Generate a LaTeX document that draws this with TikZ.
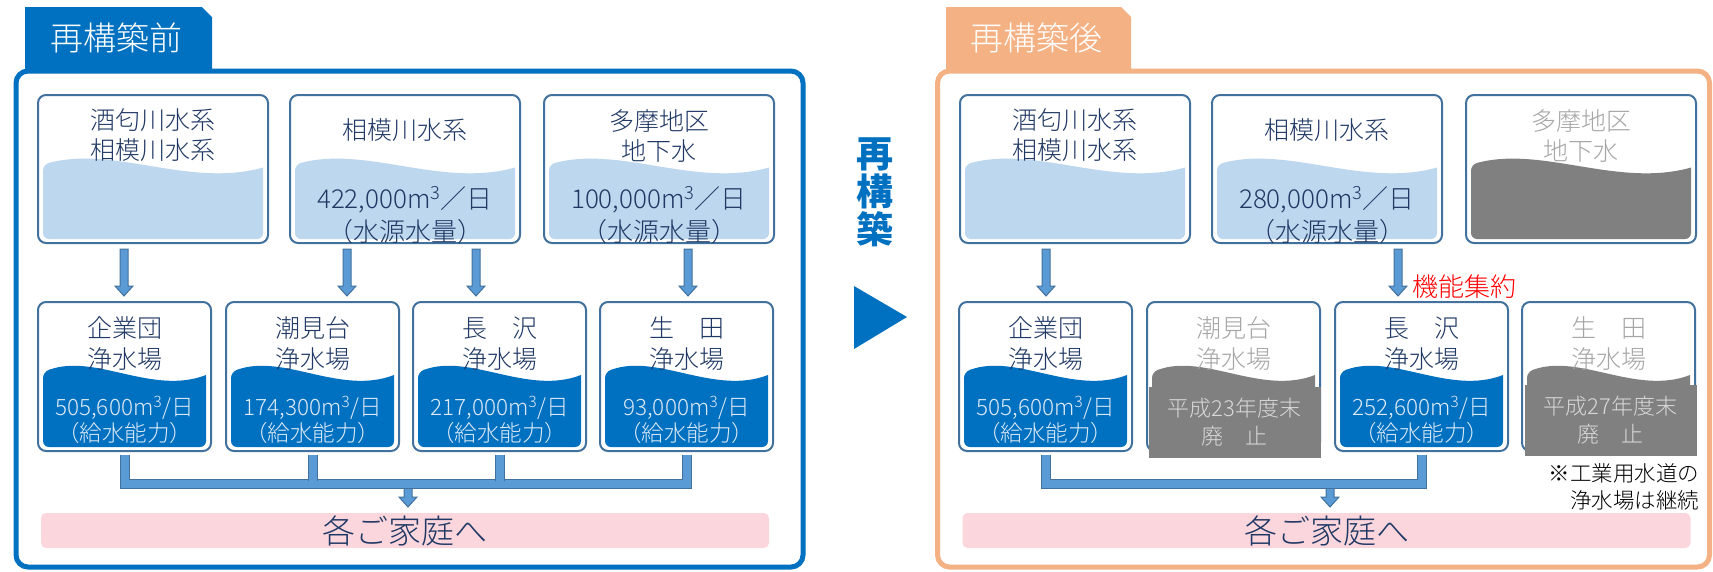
\documentclass[tikz,border=0pt]{standalone}
\usepackage{fontspec}
\setmainfont{Noto Sans CJK JP Light}
\newfontfamily\headfont{Noto Sans CJK JP}
\usepackage{tikz}
\usetikzlibrary{arrows,calc,positioning}
\definecolor{mainblue}{RGB}{0,112,192}
\definecolor{peach}{RGB}{244,177,131}
\definecolor{boxline}{RGB}{65,113,156}
\definecolor{lightwater}{RGB}{189,215,238}
\definecolor{navytext}{RGB}{31,56,100}
\definecolor{pipefill}{RGB}{91,155,213}
\definecolor{homepink}{RGB}{252,214,221}
\definecolor{closedgray}{RGB}{128,128,128}
\definecolor{fadedtext}{RGB}{166,166,166}
\definecolor{palewhite}{RGB}{222,235,247}
\definecolor{palegray}{RGB}{217,217,217}

% water surface inside a box: node, width, height, colour
\newcommand{\wave}[4]{%
  \begin{scope}[shift={(#1.north west)}]
    \fill[#4] (5,{0.47*#3}) .. controls ({0.33*#2},{0.34*#3}) and ({0.66*#2},{0.63*#3}) .. ({#2-5},{0.49*#3})
      [rounded corners=6pt] -- ({#2-5},{#3-4}) -- (5,{#3-4}) -- cycle;
  \end{scope}}

\begin{document}
\begin{tikzpicture}
              [x=1pt,y=-1pt,
                every node/.style={inner sep=0pt,outer sep=0pt},
                srcbox/.style={draw=boxline,line width=2pt,fill=white,rounded corners=8pt,anchor=north west,minimum width=230pt,minimum height=148pt},
                plantbox/.style={draw=boxline,line width=2pt,fill=white,rounded corners=8pt,anchor=north west,minimum width=173pt,minimum height=149pt},
                nametext/.style={text=navytext,align=center,font=\fontsize{25}{30}\selectfont},
                srcnum/.style={text=navytext,align=center,font=\fontsize{26}{33}\selectfont},
                plantnum/.style={text=palewhite,align=center,font=\fontsize{22.5}{26}\selectfont},
                home/.style={fill=homepink,rounded corners=5pt,minimum width=728pt,minimum height=35pt,text=navytext,font=\fontsize{33}{33}\selectfont},
                closed/.style={fill=closedgray,minimum width=172pt,minimum height=71pt,text=palegray,align=center,font=\fontsize{22}{28}\selectfont},
                tabtext/.style={text=white,font=\fontsize{33}{33}\selectfont},
                pipe/.style={draw=boxline,line width=1pt,double=pipefill,double distance=8pt},
                blockarrow/.style={draw=boxline,line width=1pt,fill=pipefill,
                  to path={let \p1=(\tikztostart), \p2=(\tikztotarget) in
                    (\x1-4pt,\y1-6pt) -- (\x1-4pt,\y2+16pt) -- (\x1-9pt,\y2+16pt) -- (\x1,\y2+6pt)
                    -- (\x1+9pt,\y2+16pt) -- (\x1+4pt,\y2+16pt) -- (\x1+4pt,\y1-6pt) -- cycle}}]
  \useasboundingbox (0,0) rectangle (1713,571);

  % before
  \draw[mainblue,line width=5pt,rounded corners=12pt] (16,71) rectangle (803,567);
  \fill[mainblue] (25,72) -- (25,7) -- (202,7) -- (212,17) -- (212,72) -- cycle;
  \node[tabtext] (tab1) at (116,38) {再構築前};

  \node[srcbox] (s1) at (38,95) {};
  \node[srcbox] (s2) at (290,95) {};
  \node[srcbox] (s3) at (544,95) {};
  \wave{s1}{230}{148}{lightwater}
  \wave{s2}{230}{148}{lightwater}
  \wave{s3}{230}{148}{lightwater}
  \node[nametext] (s1n) at ([yshift=-40pt]s1.north) {酒匂川水系\\相模川水系};
  \node[nametext] (s2n) at ([yshift=-35pt]s2.north) {相模川水系};
  \node[nametext] (s3n) at ([yshift=-41pt]s3.north) {多摩地区\\地下水};
  \node[srcnum] (s2q) at ([yshift=-120pt]s2.north) {422,000m\textsuperscript{3}／日\\（水源水量）};
  \node[srcnum] (s3q) at ([yshift=-120pt]s3.north) {100,000m\textsuperscript{3}／日\\（水源水量）};

  \node[plantbox] (p1) at (38,302) {};
  \node[plantbox] (p2) at (226,302) {};
  \node[plantbox] (p3) at (413,302) {};
  \node[plantbox] (p4) at (600,302) {};
  \wave{p1}{173}{149}{mainblue}
  \wave{p2}{173}{149}{mainblue}
  \wave{p3}{173}{149}{mainblue}
  \wave{p4}{173}{149}{mainblue}
  \node[nametext,font=\fontsize{25}{31}\selectfont] (p1n) at ([yshift=-42pt]p1.north) {企業団\\浄水場};
  \node[nametext,font=\fontsize{25}{31}\selectfont] (p2n) at ([yshift=-42pt]p2.north) {潮見台\\浄水場};
  \node[nametext,font=\fontsize{25}{31}\selectfont] (p3n) at ([yshift=-42pt]p3.north) {長　沢\\浄水場};
  \node[nametext,font=\fontsize{25}{31}\selectfont] (p4n) at ([yshift=-42pt]p4.north) {生　田\\浄水場};
  \node[plantnum] (p1q) at ([yshift=-118pt]p1.north) {505,600m\textsuperscript{3}/日\\（給水能力）};
  \node[plantnum] (p2q) at ([yshift=-118pt]p2.north) {174,300m\textsuperscript{3}/日\\（給水能力）};
  \node[plantnum] (p3q) at ([yshift=-118pt]p3.north) {217,000m\textsuperscript{3}/日\\（給水能力）};
  \node[plantnum] (p4q) at ([yshift=-118pt]p4.north) {93,000m\textsuperscript{3}/日\\（給水能力）};

  \draw[blockarrow] (124,0 |- s1.south) to (124,0 |- p1.north);
  \draw[blockarrow] (347,0 |- s2.south) to (347,0 |- p2.north);
  \draw[blockarrow] (476,0 |- s2.south) to (476,0 |- p3.north);
  \draw[blockarrow] (688,0 |- s3.south) to (688,0 |- p4.north);

  \node[home] (h1) at (405,530.5) {各ご家庭へ};
  \coordinate (bus1) at (408,484);
  \draw[blockarrow] ([yshift=6pt]bus1) to (h1.north);
  \draw[pipe] ([yshift=-4pt]p1.south) |- (bus1) -| ([yshift=-4pt]p4.south);
  \draw[pipe] ([yshift=-4pt]p2.south) -- ([yshift=3pt]p2.south |- bus1);
  \draw[pipe] ([yshift=-4pt]p3.south) -- ([yshift=3pt]p3.south |- bus1);

  % middle
  \node[text=mainblue,align=center,font=\fontsize{37}{38}\selectfont\headfont\bfseries] (mid) at (875,192) {再\\構\\築};
  \fill[mainblue] (854,286) -- (907,317) -- (854,349) -- cycle;

  % after
  \draw[peach,line width=5pt,rounded corners=12pt] (937.5,71) rectangle (1709.5,567);
  \fill[peach] (946,72) -- (946,7) -- (1121,7) -- (1131,17) -- (1131,72) -- cycle;
  \node[tabtext] (tab2) at (1036,38) {再構築後};

  \node[srcbox] (s4) at (960,95) {};
  \node[srcbox] (s5) at (1212,95) {};
  \node[srcbox] (s6) at (1466,95) {};
  \wave{s4}{230}{148}{lightwater}
  \wave{s5}{230}{148}{lightwater}
  \wave{s6}{230}{148}{closedgray}
  \node[nametext] (s4n) at ([yshift=-40pt]s4.north) {酒匂川水系\\相模川水系};
  \node[nametext] (s5n) at ([yshift=-35pt]s5.north) {相模川水系};
  \node[nametext,text=fadedtext] (s6n) at ([yshift=-41pt]s6.north) {多摩地区\\地下水};
  \node[srcnum] (s5q) at ([yshift=-120pt]s5.north) {280,000m\textsuperscript{3}／日\\（水源水量）};

  \node[plantbox] (p5) at (959,302) {};
  \node[plantbox] (p6) at (1147,302) {};
  \node[plantbox] (p7) at (1335,302) {};
  \node[plantbox] (p8) at (1522,302) {};
  \wave{p5}{173}{149}{mainblue}
  \wave{p6}{173}{149}{closedgray}
  \wave{p7}{173}{149}{mainblue}
  \wave{p8}{173}{149}{closedgray}
  \node[nametext,font=\fontsize{25}{31}\selectfont] (p5n) at ([yshift=-42pt]p5.north) {企業団\\浄水場};
  \node[nametext,font=\fontsize{25}{31}\selectfont,text=fadedtext] (p6n) at ([yshift=-42pt]p6.north) {潮見台\\浄水場};
  \node[nametext,font=\fontsize{25}{31}\selectfont] (p7n) at ([yshift=-42pt]p7.north) {長　沢\\浄水場};
  \node[nametext,font=\fontsize{25}{31}\selectfont,text=fadedtext] (p8n) at ([yshift=-42pt]p8.north) {生　田\\浄水場};
  \node[plantnum] (p5q) at ([yshift=-118pt]p5.north) {505,600m\textsuperscript{3}/日\\（給水能力）};
  \node[plantnum] (p7q) at ([yshift=-118pt]p7.north) {252,600m\textsuperscript{3}/日\\（給水能力）};
  \node[closed] (c1) at (1234.5,422.5) {平成23年度末\\廃　止};
  \node[closed] (c2) at (1610.5,420.5) {平成27年度末\\廃　止};

  \draw[blockarrow] (1046,0 |- s4.south) to (1046,0 |- p5.north);
  \draw[blockarrow] (1398,0 |- s5.south) to (1398,0 |- p7.north);
  \node[anchor=west,text=red,font=\fontsize{26}{26}\selectfont] (merge) at (1412,287) {機能集約};

  \node[home] (h2) at (1326.5,530.5) {各ご家庭へ};
  \coordinate (bus2) at (1330,484);
  \draw[blockarrow] ([yshift=6pt]bus2) to (h2.north);
  \draw[pipe] ([yshift=-4pt]p5.south) |- (bus2) -| ([yshift=-4pt]p7.south);
  \node[anchor=east,align=right,font=\fontsize{21.5}{27}\selectfont] (note) at (1699,486.5) {※工業用水道の\\浄水場は継続};
\end{tikzpicture}
\end{document}
